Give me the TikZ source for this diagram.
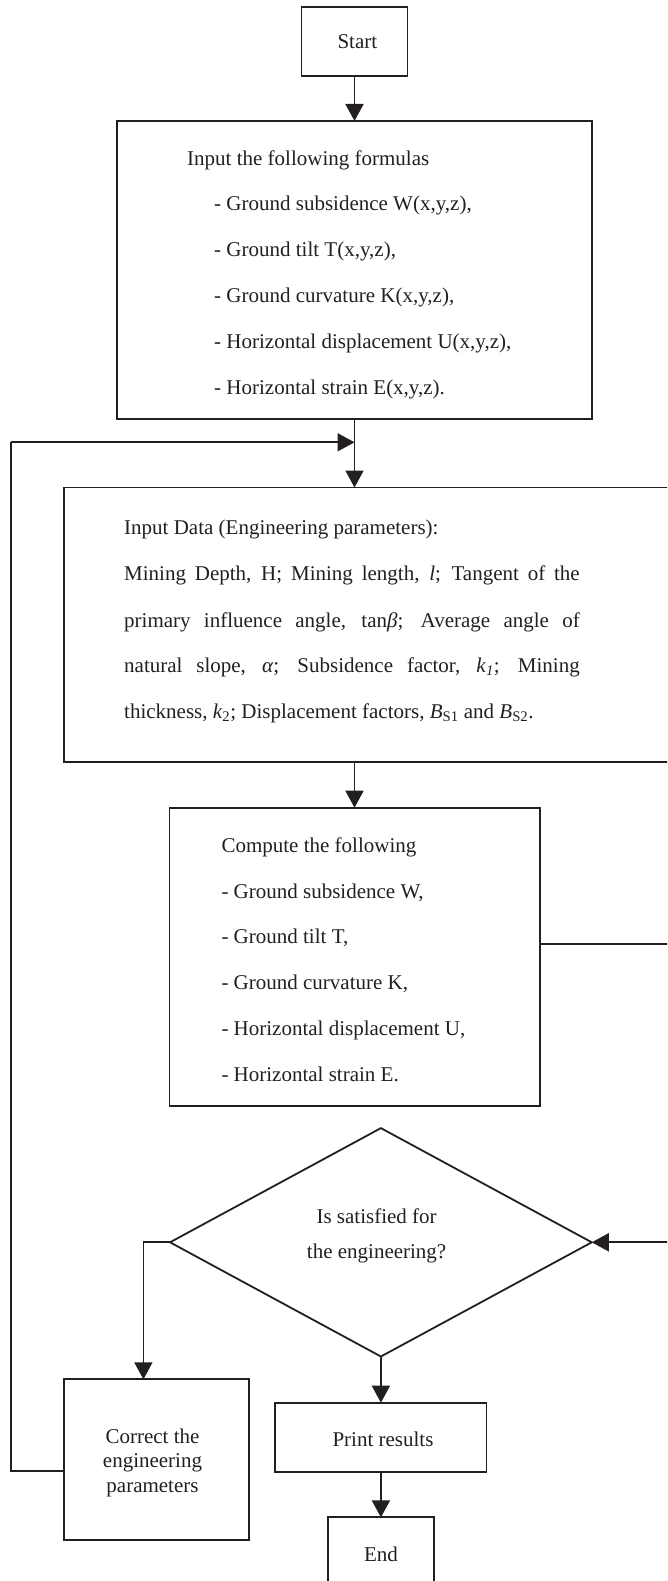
\documentclass[tikz,border=0pt]{standalone}
\usepackage{fontspec}
\setmainfont{Liberation Serif}
\usetikzlibrary{arrows.meta,shapes.geometric}
\definecolor{ink}{HTML}{231F20}
\newcommand{\fsz}{\fontsize{21}{25}\selectfont}
\begin{document}
\begin{tikzpicture}[x=1pt,y=-1pt,
  box/.style={draw=ink,line width=1.8pt,inner sep=0pt,outer sep=0pt},
  txt/.style={anchor=base west,inner sep=0pt,font=\fsz,text=ink},
  ctxt/.style={anchor=base,inner sep=0pt,font=\fsz,text=ink,align=center},
  conn/.style={draw=ink,line width=1.8pt},
  arr/.style={conn,-{Triangle[length=17pt,width=18pt]}}]
\useasboundingbox (0,0) rectangle (667,1581);
\clip (0,0) rectangle (667,1581);

% boxes
\node[box,minimum width=106pt,minimum height=69.3pt] (start) at (354.5,41.4) {};
\node[box,minimum width=475.4pt,minimum height=298pt] (box1) at (354.3,270) {};
\node[box,minimum width=636pt,minimum height=274.2pt] (box2) at (382,624.6) {};
\node[box,minimum width=370.2pt,minimum height=298pt] (box3) at (354.5,956.7) {};
\node[box,shape=diamond,minimum width=421.7pt,minimum height=228.4pt] (dia) at (380.9,1242.3) {};
\node[box,minimum width=185.2pt,minimum height=160.7pt] (corr) at (156.4,1459.7) {};
\node[box,minimum width=211.1pt,minimum height=69pt] (print) at (380.9,1437.2) {};
\node[box,minimum width=106.3pt,minimum height=69.3pt] (end) at (380.9,1552) {};

% texts
\node[ctxt] (tstart) at (357.4,49) {Start};
\node[txt] (t1a) at (187,165.7) {Input the following formulas};
\node[txt] (t1b) at (214,210.7) {- Ground subsidence W(x,y,z),};
\node[txt] (t1c) at (214,256.7) {- Ground tilt T(x,y,z),};
\node[txt] (t1d) at (214,302.7) {- Ground curvature K(x,y,z),};
\node[txt] (t1e) at (214,348.7) {- Horizontal displacement U(x,y,z),};
\node[txt] (t1f) at (214,394.7) {- Horizontal strain E(x,y,z).};

\node[txt] (t2a) at (124,534.3) {Input Data (Engineering parameters):};
\node[txt] (t2b) at (124,580.3) {\makebox[455.6pt][s]{Mining Depth, H; Mining length, \textit{l}; Tangent of the}};
\node[txt] (t2c) at (124,627) {\makebox[455.6pt][s]{primary influence angle, tan\textit{β}; Average angle of}};
\node[txt] (t2d) at (124,672) {\makebox[455.6pt][s]{natural slope, \textit{α}; Subsidence factor, \textit{k}\textsubscript{\textit{1}}; Mining}};
\node[txt] (t2e) at (124,718) {thickness, \textit{k}\textsubscript{2}; Displacement factors, \textit{B}\textsubscript{S1} and \textit{B}\textsubscript{S2}.};

\node[txt] (t3a) at (221.3,852.7) {Compute the following};
\node[txt] (t3b) at (221.3,898.7) {- Ground subsidence W,};
\node[txt] (t3c) at (221.3,943.7) {- Ground tilt T,};
\node[txt] (t3d) at (221.3,989.3) {- Ground curvature K,};
\node[txt] (t3e) at (221.3,1035.3) {- Horizontal displacement U,};
\node[txt] (t3f) at (221.3,1081.3) {- Horizontal strain E.};

\node[ctxt] (td1) at (376.6,1223.5) {Is satisfied for};
\node[ctxt] (td2) at (376.6,1258.5) {the engineering?};

\node[ctxt] (tc1) at (152.5,1443.5) {Correct the};
\node[ctxt] (tc2) at (152.5,1467.8) {engineering};
\node[ctxt] (tc3) at (152.5,1492.2) {parameters};

\node[ctxt] (tprint) at (383,1446.7) {Print results};
\node[ctxt] (tend) at (381,1561) {End};

% connector coordinates
\coordinate (merge) at (354.5,442.3);
\coordinate (r1) at (690,944.3);
\coordinate (r2) at (690,1242.3);
\coordinate (l1) at (143.4,1379.3);
\coordinate (lp1) at (10.6,1471);
\coordinate (lp2) at (10.6,442.3);

% connectors
\draw[arr] (start.south) -- (box1.north -| start.south);
\draw[arr] (box1.south -| merge) -- (box2.north -| merge);
\draw[arr] (box2.south -| box3.north) -- (box3.north);
\draw[conn] (box3.east |- r1) -- (r1) -- (r2);
\draw[arr] (r2) -- (dia.east);
\draw[arr] (dia.west) -| (l1);
\draw[conn] (corr.west |- lp1) -- (lp1) -- (lp2);
\draw[arr] (lp2) -- (merge);
\draw[arr] (dia.south) -- (print.north);
\draw[arr] (print.south) -- (end.north);
\end{tikzpicture}
\end{document}
